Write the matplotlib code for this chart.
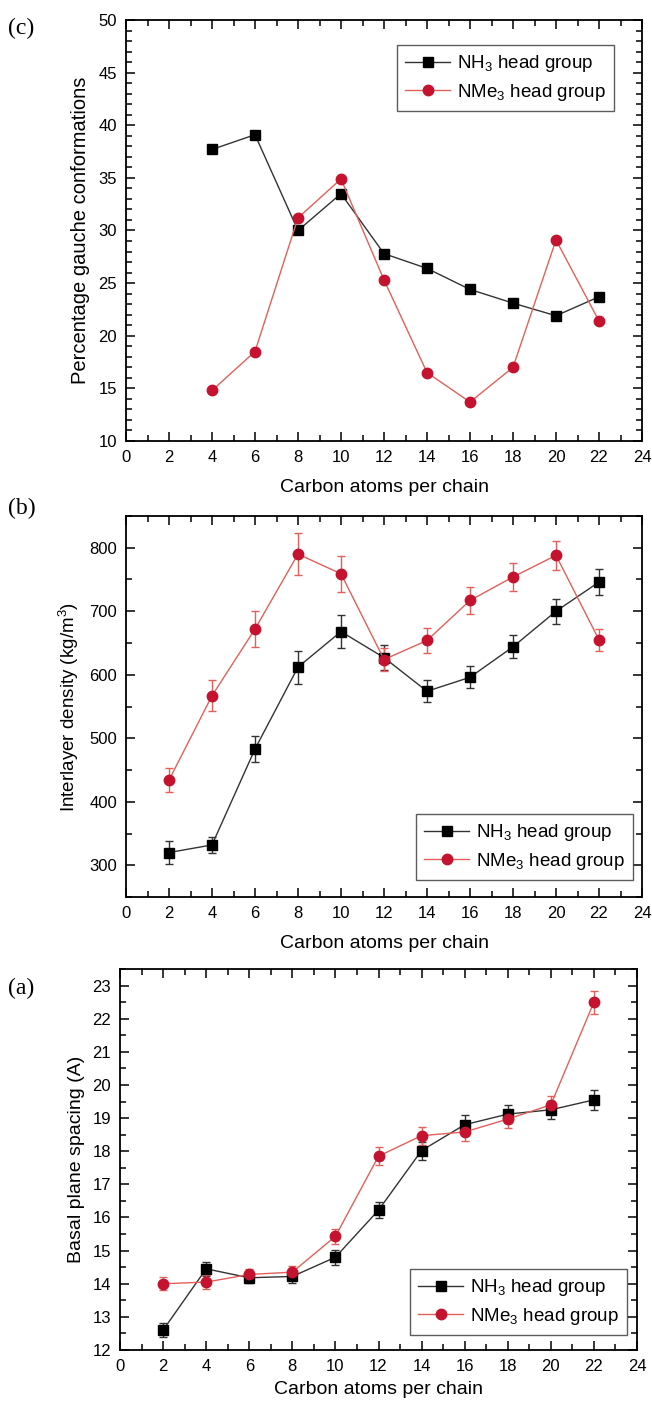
import matplotlib
matplotlib.use("Agg")
import matplotlib.pyplot as plt
from matplotlib.ticker import MultipleLocator

plt.rcParams['font.family'] = ['Liberation Sans', 'DejaVu Sans']
plt.rcParams['mathtext.fontset'] = 'custom'
plt.rcParams['mathtext.rm'] = 'Liberation Sans'

# ---- Data ----
# (c) Percentage gauche conformations
c_x = [4, 6, 8, 10, 12, 14, 16, 18, 20, 22]
c_nh3 = [37.7, 39.1, 30.0, 33.5, 27.8, 26.4, 24.4, 23.1, 21.9, 23.7]
c_nme3 = [14.8, 18.5, 31.2, 34.9, 25.3, 16.5, 13.7, 17.0, 29.1, 21.4]

# (b) Interlayer density
b_x = [2, 4, 6, 8, 10, 12, 14, 16, 18, 20, 22]
b_nh3 = [320, 332, 483, 612, 668, 627, 574, 596, 644, 700, 746]
b_nh3_err = [18, 13, 20, 26, 26, 20, 17, 17, 18, 20, 21]
b_nme3 = [434, 567, 672, 790, 759, 624, 654, 717, 754, 788, 655]
b_nme3_err = [19, 24, 28, 33, 28, 18, 20, 21, 22, 23, 17]

# (a) Basal plane spacing
a_x = [2, 4, 6, 8, 10, 12, 14, 16, 18, 20, 22]
a_nh3 = [12.6, 14.45, 14.18, 14.22, 14.8, 16.22, 18.02, 18.8, 19.12, 19.25, 19.55]
a_nh3_err = [0.2, 0.22, 0.15, 0.2, 0.22, 0.25, 0.27, 0.28, 0.28, 0.27, 0.3]
a_nme3 = [14.0, 14.05, 14.28, 14.35, 15.43, 17.85, 18.47, 18.58, 18.97, 19.4, 22.5]
a_nme3_err = [0.2, 0.2, 0.17, 0.18, 0.22, 0.27, 0.27, 0.28, 0.27, 0.27, 0.35]

labels = [r"NH$_\mathregular{3}$ head group", r"NMe$_\mathregular{3}$ head group"]
x_ticks = list(range(0, 25, 2))

BLACK_LINE = '#333333'
RED_LINE = '#e3605a'
RED_MARK = '#c4122f'

W, H = 652, 1401
fig = plt.figure(figsize=(W / 100, H / 100), dpi=100)


def ax_rect(l, t, r, b):
    return [l / W, 1 - b / H, (r - l) / W, (b - t) / H]


def style(ax, ylim, ymaj, ymin, xlabelpad=10):
    ax.set_xlim(0, 24)
    ax.set_ylim(*ylim)
    ax.set_xticks(x_ticks)
    ax.xaxis.set_minor_locator(MultipleLocator(1))
    ax.yaxis.set_major_locator(MultipleLocator(ymaj))
    ax.yaxis.set_minor_locator(MultipleLocator(ymin))
    ax.tick_params(which='both', direction='in', top=True, right=True,
                   labelsize=12, width=1.1)
    ax.tick_params(which='major', length=6.5, pad=6.5)
    ax.tick_params(which='minor', length=4)
    for s in ax.spines.values():
        s.set_linewidth(1.3)
    ax.set_xlabel("Carbon atoms per chain", fontsize=14, labelpad=xlabelpad)


def plot_series(ax, x, y1, y2, e1=None, e2=None):
    kw1 = dict(color=BLACK_LINE, lw=1.0, marker='s', ms=7, mfc='black', mec='black')
    kw2 = dict(color=RED_LINE, lw=1.0, marker='o', ms=7.5, mfc=RED_MARK, mec=RED_MARK)
    if e1 is None:
        l1, = ax.plot(x, y1, **kw1)
        l2, = ax.plot(x, y2, **kw2)
    else:
        ax.errorbar(x, y1, yerr=e1, capsize=3, elinewidth=1.0, capthick=1.0, **kw1)
        ax.errorbar(x, y2, yerr=e2, capsize=3, elinewidth=1.0, capthick=1.0, **kw2)
        l1 = plt.Line2D([], [], **kw1)
        l2 = plt.Line2D([], [], **kw2)
    return [l1, l2]


def add_legend(ax, handles, x, y):
    leg = ax.legend(handles, labels, loc='upper left',
                    bbox_to_anchor=(x / W, 1 - y / H), bbox_transform=fig.transFigure,
                    fontsize=13.5, frameon=True, fancybox=False, edgecolor='#333333',
                    handlelength=2.4, borderpad=0.45, labelspacing=0.4,
                    handletextpad=0.35, borderaxespad=0)
    leg.get_frame().set_linewidth(1.0)


# (c)
ax_c = fig.add_axes(ax_rect(126, 20, 642, 441))
h = plot_series(ax_c, c_x, c_nh3, c_nme3)
style(ax_c, (10, 50), 5, 1)
ax_c.set_ylabel("Percentage gauche conformations", fontsize=14.5, labelpad=6)
add_legend(ax_c, h, 397, 45)
fig.text(8 / W, 1 - 28 / H, "(c)", family='Liberation Serif', fontsize=17,
         va='center', ha='left')

# (b)
ax_b = fig.add_axes(ax_rect(126, 516, 642, 897))
h = plot_series(ax_b, b_x, b_nh3, b_nme3, b_nh3_err, b_nme3_err)
style(ax_b, (250, 850), 100, 50)
ax_b.set_ylabel(r"Interlayer density (kg/m$^\mathregular{3}$)", fontsize=13.5, labelpad=6)
add_legend(ax_b, h, 416, 814)
fig.text(8 / W, 1 - 508 / H, "(b)", family='Liberation Serif', fontsize=17,
         va='center', ha='left')

# (a)
ax_a = fig.add_axes(ax_rect(120, 969, 637, 1350))
h = plot_series(ax_a, a_x, a_nh3, a_nme3, a_nh3_err, a_nme3_err)
style(ax_a, (12, 23.5), 1, 0.5, xlabelpad=5)
ax_a.set_ylabel("Basal plane spacing (A)", fontsize=14, labelpad=5)
add_legend(ax_a, h, 410, 1269)
fig.text(8 / W, 1 - 988 / H, "(a)", family='Liberation Serif', fontsize=17,
         va='center', ha='left')

fig.savefig("out.png", dpi=100)
